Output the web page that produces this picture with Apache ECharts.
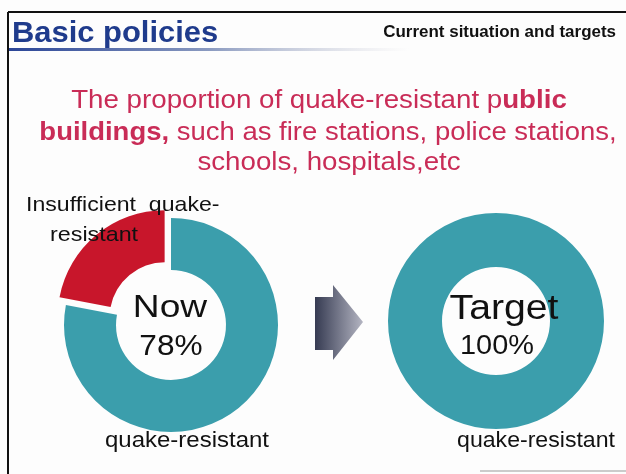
<!DOCTYPE html>
<html>
<head>
<meta charset="utf-8">
<script src="https://cdn.jsdelivr.net/npm/echarts@6/dist/echarts.min.js"></script>
<style>
  html, body { margin: 0; padding: 0; background: #fdfdfd; }
  #chart { width: 626px; height: 474px; }
</style>
</head>
<body>
<div id="chart"></div>
<script>
  // 数据
  var categories = ['quake-resistant', 'Insufficient quake-resistant']
  var nowValues = [78, 22]
  var targetValues = [100]
  var stageNames = ['Now', 'Target']

  var TEAL = '#3b9eac'
  var RED = '#c8162b'
  var FAMILY = 'Liberation Sans'
  var PINK = '#c92c57'
  var boldRich = { b: { fontFamily: FAMILY, fontSize: 26, fontWeight: 'bold', fill: PINK } }

  // 文字元素 (原图文字横向略宽, 用 scaleX 拉伸)
  function label(x, y, text, size, opts) {
    opts = opts || {}
    return {
      type: 'text', x: x, y: y, z: 100, scaleX: opts.sx || 1,
      style: {
        text: text,
        fontFamily: FAMILY,
        fontSize: size,
        fontWeight: opts.weight || 'normal',
        fill: opts.color || '#111',
        align: opts.align || 'left',
        verticalAlign: 'middle',
        rich: opts.rich
      }
    }
  }

  var chart = echarts.init(document.getElementById('chart'))

  var option = {
    backgroundColor: '#fdfdfd',
    animation: false,
    series: [
      // 现在
      {
        type: 'pie',
        center: [171, 325],
        radius: [55, 107],
        startAngle: 90,
        clockwise: true,
        selectedMode: 'single',
        selectedOffset: 10,
        label: { show: false },
        labelLine: { show: false },
        silent: true,
        data: [
          { name: categories[0], value: nowValues[0], itemStyle: { color: TEAL } },
          { name: categories[1], value: nowValues[1], itemStyle: { color: RED }, selected: true }
        ]
      },
      // 目标
      {
        type: 'pie',
        center: [496, 321],
        radius: [54, 108],
        startAngle: 90,
        label: { show: false },
        labelLine: { show: false },
        silent: true,
        data: [
          { name: categories[0], value: targetValues[0], itemStyle: { color: TEAL } }
        ]
      }
    ],
    graphic: [
      // 边框
      { type: 'line', shape: { x1: 8, y1: 12, x2: 626, y2: 12 }, style: { stroke: '#111', lineWidth: 2 } },
      { type: 'line', shape: { x1: 8, y1: 12, x2: 8, y2: 474 }, style: { stroke: '#111', lineWidth: 2 } },
      { type: 'line', shape: { x1: 480, y1: 471, x2: 626, y2: 471 }, style: { stroke: '#999', lineWidth: 1 } },
      // 标题下划线
      {
        type: 'rect',
        shape: { x: 9, y: 48, width: 400, height: 3 },
        style: {
          fill: new echarts.graphic.LinearGradient(0, 0, 1, 0, [
            { offset: 0, color: '#2a4597' },
            { offset: 0.5, color: '#8a9ac0' },
            { offset: 1, color: 'rgba(200,200,210,0)' }
          ])
        }
      },
      label(12, 34, 'Basic policies', 30, { weight: 'bold', color: '#1f3b8c', sx: 1.03 }),
      label(616, 33, 'Current situation and targets', 16, { weight: 'bold', align: 'right', sx: 1.06 }),
      // 说明文字
      label(319, 101, 'The proportion of quake-resistant p{b|ublic}', 26, { color: PINK, align: 'center', sx: 1.065, rich: boldRich }),
      label(328, 133, '{b|buildings,} such as fire stations, police stations,', 26, { color: PINK, align: 'center', sx: 1.057, rich: boldRich }),
      label(329, 163, 'schools, hospitals,etc', 26, { color: PINK, align: 'center', sx: 1.065 }),
      // 饼图标签
      label(26, 205, 'Insufficient  quake-', 21, { sx: 1.1 }),
      label(50, 235, 'resistant', 21, { sx: 1.11 }),
      label(187, 441, categories[0], 22, { align: 'center', sx: 1.09 }),
      label(536, 441, categories[0], 22, { align: 'center', sx: 1.05 }),
      // 中心文字
      label(170, 308, stageNames[0], 32, { align: 'center', sx: 1.16 }),
      label(171, 347, nowValues[0] + '%', 29, { align: 'center', sx: 1.09 }),
      label(504, 309, stageNames[1], 35, { align: 'center', sx: 1.12 }),
      label(497, 347, targetValues[0] + '%', 27, { align: 'center', sx: 1.07 }),
      // 箭头
      {
        type: 'polygon',
        shape: { points: [[315, 297], [333, 297], [333, 285], [363, 322], [333, 360], [333, 350], [315, 350]] },
        style: {
          fill: new echarts.graphic.LinearGradient(0, 0, 1, 0, [
            { offset: 0, color: '#363b52' },
            { offset: 1, color: '#b4b5c2' }
          ])
        }
      }
    ]
  }

  chart.setOption(option)
</script>
</body>
</html>
